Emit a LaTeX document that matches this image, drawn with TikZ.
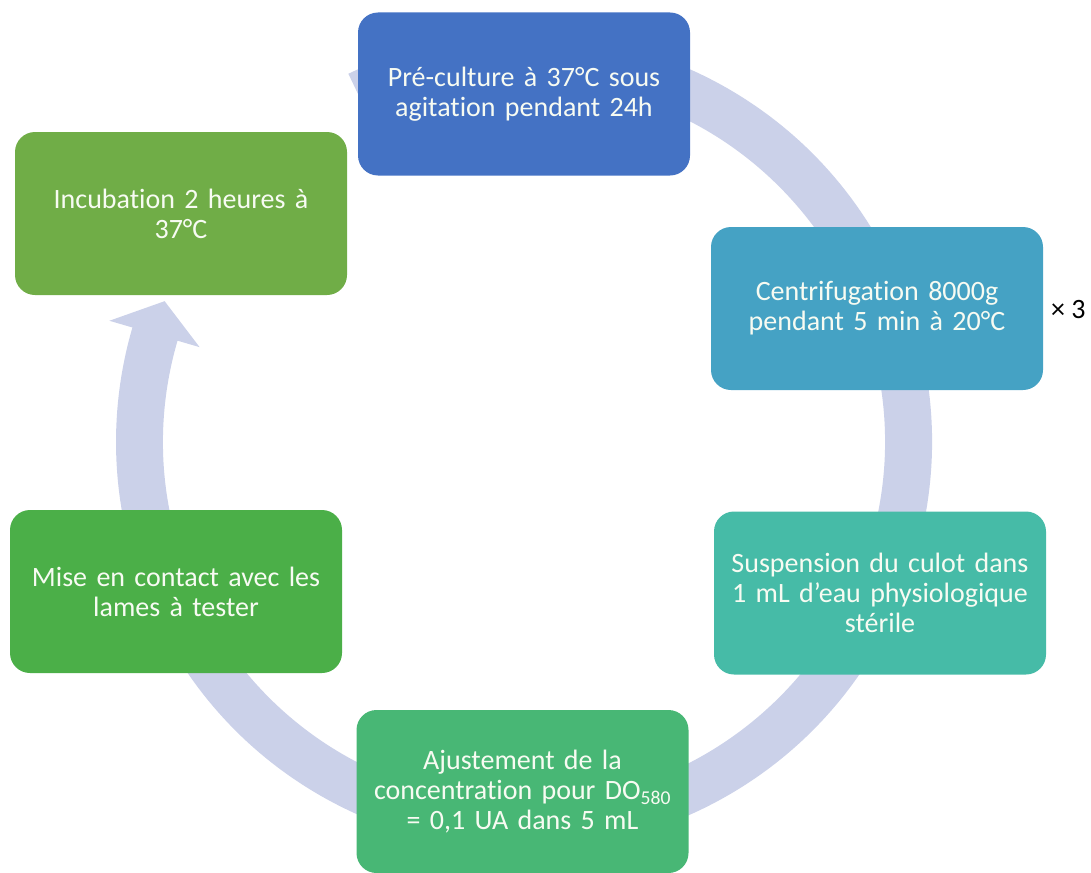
\documentclass[tikz,border=0pt]{standalone}
\usepackage{fontspec}
\setmainfont{Carlito}[Ligatures={NoCommon}]
\usetikzlibrary{calc}
\definecolor{cA}{HTML}{4472C4}
\definecolor{cB}{HTML}{45A2C4}
\definecolor{cC}{HTML}{46BBA7}
\definecolor{cD}{HTML}{48B775}
\definecolor{cE}{HTML}{4BAF48}
\definecolor{cF}{HTML}{70AD47}
\definecolor{ringc}{HTML}{CBD1E9}
\definecolor{txt}{HTML}{F7FBF2}
\begin{document}
\begin{tikzpicture}[x=1pt,y=1pt,
  stepbox/.style={rounded corners=20pt, minimum width=332pt, minimum height=163pt,
    text width=316pt, align=center, text=txt, inner sep=0pt,
    font=\fontsize{28}{30}\selectfont},
  ringfill/.style={fill=ringc}
]
\useasboundingbox (0,0) rectangle (1091,-872);
\coordinate (C) at (524,-442);
% circular arrow
\fill[ringfill] ($(C)+(115.5:408pt)$) arc[start angle=115.5, end angle=-196.3, radius=408pt]
  -- ($(C)+(-196.3:432pt)$) -- ($(C)+(-201.4:386pt)$) -- ($(C)+(-196.3:338pt)$)
  -- ($(C)+(-196.3:361pt)$) arc[start angle=-196.3, end angle=115.5, radius=361pt] -- cycle;
% boxes
\node[stepbox, fill=cA] (n1) at (524,-94) {Pré-culture à 37°C sous\\agitation pendant 24h};
\node[stepbox, fill=cB] (n2) at (877,-308.5) {Centrifugation 8000g\\pendant 5 min à 20°C};
\node[stepbox, fill=cC] (n3) at (880,-593) {Suspension du culot dans\\1 mL d’eau physiologique\\stérile};
\node[stepbox, fill=cD] (n4) at (522.5,-791.5) {Ajustement de la\\concentration pour DO\textsubscript{580}\\= 0,1 UA dans 5 mL};
\node[stepbox, fill=cE] (n5) at (176,-591.5) {Mise en contact avec les\\lames à tester};
\node[stepbox, fill=cF] (n6) at (181,-213.5) {Incubation 2 heures à\\37°C};
\node[font=\fontsize{28}{30}\selectfont, anchor=west, inner sep=0pt] (x3) at (1051,-310) {× 3};
\end{tikzpicture}
\end{document}
